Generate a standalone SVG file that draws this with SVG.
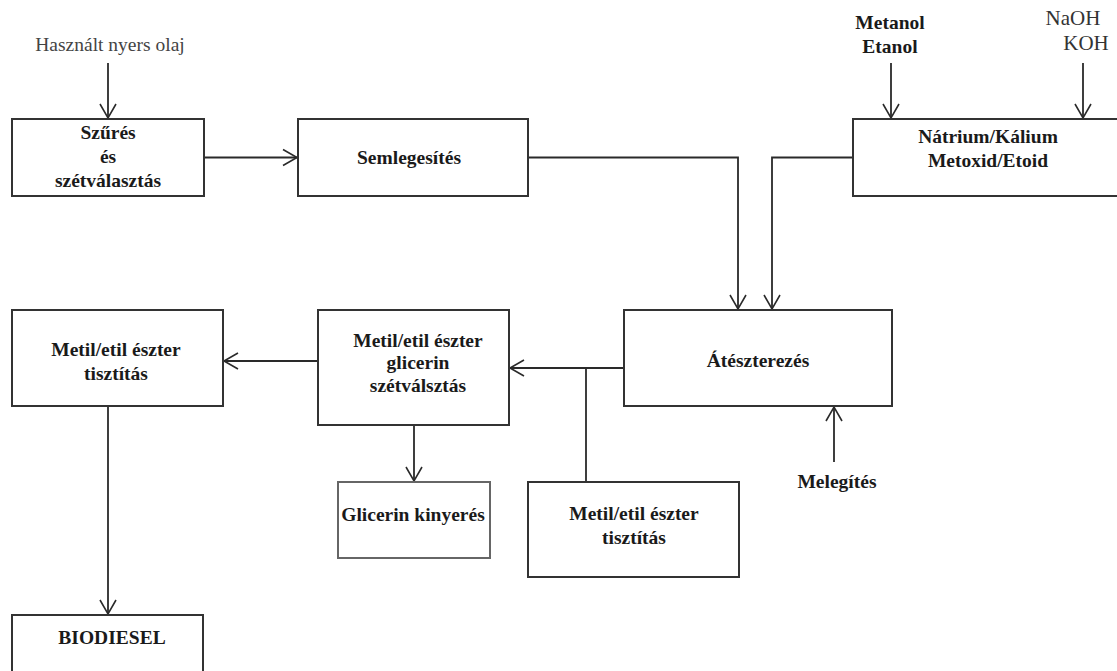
<svg xmlns="http://www.w3.org/2000/svg" width="1117" height="671" viewBox="0 0 1117 671">
<defs>
<marker id="ah" markerUnits="userSpaceOnUse" markerWidth="20" markerHeight="20" viewBox="-16 -10 18 20" refX="0" refY="0" orient="auto">
<path d="M -14 -8 L 0 0 L -14 8" fill="none" stroke="#2a2a2a" stroke-width="1.6"/>
</marker>
<style>
.box{fill:#fff;stroke:#333;stroke-width:2}
.lt{stroke:#666}
.ln{fill:none;stroke:#2a2a2a;stroke-width:1.8}
.arr{marker-end:url(#ah)}
text{font-family:"Liberation Serif","Times New Roman",serif;fill:#1a1a1a;text-anchor:middle}
.b{font-weight:bold;font-size:19.5px}
.r{font-size:19.5px;fill:#444}
.r2{font-size:21px;fill:#333}
</style>
</defs>
<rect width="1117" height="671" fill="#fff"/>

<g id="connectors">
<path class="ln arr" d="M108 63 V118"/>
<path class="ln arr" d="M891 63 V118"/>
<path class="ln arr" d="M1083 63 V118"/>
<path class="ln arr" d="M204 157.5 H297"/>
<path class="ln arr" d="M528 157.5 H738 V309"/>
<path class="ln arr" d="M853 157.5 H772 V309"/>
<path class="ln arr" d="M624 368 H510"/>
<path class="ln" d="M586 368 V482"/>
<path class="ln arr" d="M318 361 H224"/>
<path class="ln arr" d="M414 425 V481"/>
<path class="ln arr" d="M108 406 V614"/>
<path class="ln arr" d="M834 462 V407"/>
</g>

<g id="input-oil"><text class="r" x="110" y="51">Használt nyers olaj</text></g>
<g id="input-alcohol"><text class="b" x="890" y="29">Metanol</text><text class="b" x="890" y="53">Etanol</text></g>
<g id="input-base"><text class="r2" x="1073" y="25">NaOH</text><text class="r2" x="1086" y="50">KOH</text></g>

<g id="n-szures"><rect class="box" x="12" y="119" width="192" height="77"/>
<text class="b" x="108" y="139">Szűrés</text><text class="b" x="108" y="163">és</text><text class="b" x="108" y="187">szétválasztás</text></g>

<g id="n-semleg"><rect class="box" x="298" y="119" width="230" height="77"/>
<text class="b" x="409" y="164">Semlegesítés</text></g>

<g id="n-natrium"><rect class="box" x="853" y="119" width="280" height="77"/>
<text class="b" x="988" y="143">Nátrium/Kálium</text><text class="b" x="988" y="167">Metoxid/Etoid</text></g>

<g id="n-atesz"><rect class="box" x="624" y="310" width="268" height="96"/>
<text class="b" x="758" y="367">Átészterezés</text></g>

<g id="n-glic-szet"><rect class="box" x="318" y="310" width="191" height="115"/>
<text class="b" x="418" y="347">Metil/etil észter</text><text class="b" x="418" y="369">glicerin</text><text class="b" x="418" y="392">szétválsztás</text></g>

<g id="n-tisztitas1"><rect class="box" x="12" y="310" width="211" height="96"/>
<text class="b" x="116" y="356">Metil/etil észter</text><text class="b" x="116" y="380">tisztítás</text></g>

<g id="n-glicerin"><rect class="box lt" x="338" y="482" width="152" height="76"/>
<text class="b" x="413" y="521">Glicerin kinyerés</text></g>

<g id="n-tisztitas2"><rect class="box" x="528" y="482" width="211" height="95"/>
<text class="b" x="634" y="520">Metil/etil észter</text><text class="b" x="634" y="544">tisztítás</text></g>

<g id="n-melegites"><text class="b" x="837" y="488">Melegítés</text></g>

<g id="n-biodiesel"><rect class="box" x="12" y="615" width="191" height="70"/>
<text class="b" x="112" y="644">BIODIESEL</text></g>
</svg>
